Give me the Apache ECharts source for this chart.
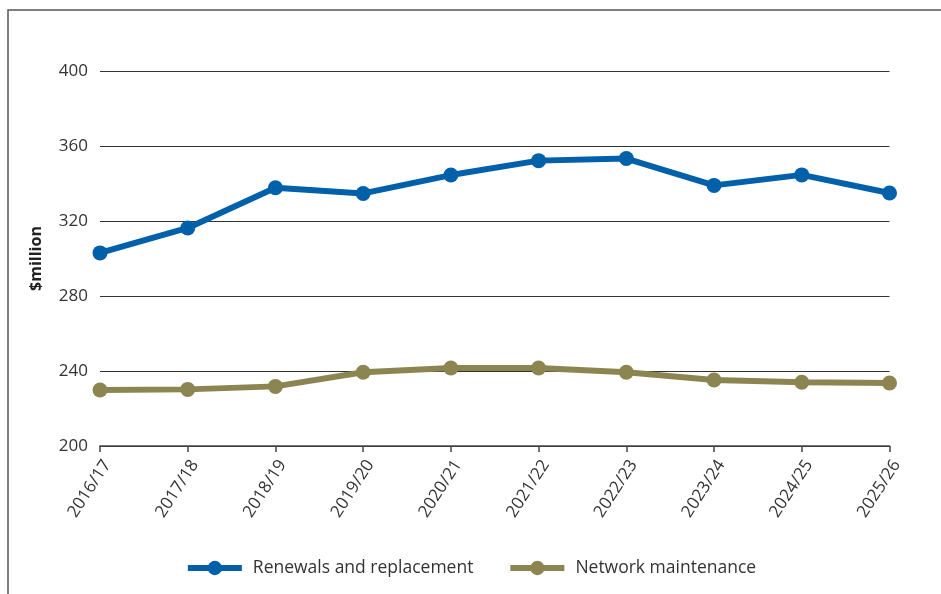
<!DOCTYPE html>
<html>
<head>
<meta charset="utf-8">
<script src="https://cdn.jsdelivr.net/npm/echarts@6/dist/echarts.min.js"></script>
<style>
html,body{margin:0;padding:0;background:#fff;}
#chart{width:941px;height:594px;}
</style>
</head>
<body>
<div id="chart"></div>
<script>
const categories = ['2016/17','2017/18','2018/19','2019/20','2020/21','2021/22','2022/23','2023/24','2024/25','2025/26'];
const renewals = [303, 316.3, 337.7, 334.7, 344.5, 352.2, 353.3, 339, 344.6, 334.9];
const maintenance = [229.9, 230.2, 231.8, 239.3, 241.6, 241.6, 239.3, 235.2, 234, 233.6];
const yTicks = [200, 240, 280, 320, 360, 400];

const FONT = '"Open Sans", "Noto Sans", sans-serif';
const chart = echarts.init(document.getElementById('chart'), null, {renderer: 'canvas'});
chart.setOption({
  animation: false,
  backgroundColor: '#fff',
  graphic: [{
    type: 'rect',
    shape: {x: 8, y: 10, width: 1200, height: 1200},
    style: {fill: 'none', stroke: '#555', lineWidth: 1.5},
    silent: true, z: -1
  }],
  grid: {left: 100, right: 51.5, top: 71, bottom: 148, containLabel: false},
  legend: {
    bottom: 12,
    left: 'center',
    itemWidth: 54,
    itemHeight: 18,
    itemGap: 34,
    lineStyle: {width: 6},
    textStyle: {fontFamily: FONT, fontSize: 17.5, color: '#333', padding: [0, 0, 0, 6]},
    data: ['Renewals and replacement', 'Network maintenance']
  },
  xAxis: {
    type: 'category',
    data: categories,
    boundaryGap: false,
    axisLine: {lineStyle: {color: '#444', width: 1.5}},
    axisTick: {show: true, length: 6, lineStyle: {color: '#444', width: 1.5}},
    axisLabel: {rotate: 57, fontFamily: FONT, fontSize: 17, color: '#333', margin: 11, interval: 0, verticalAlign: 'top'},
    splitLine: {show: false}
  },
  yAxis: {
    type: 'value',
    min: yTicks[0],
    max: yTicks[yTicks.length - 1],
    interval: 40,
    name: '$million',
    nameLocation: 'middle',
    nameGap: 56,
    nameRotate: 90,
    nameTextStyle: {fontFamily: FONT, fontSize: 16, fontWeight: 'bold', color: '#222'},
    axisLine: {show: false},
    axisTick: {show: false},
    axisLabel: {fontFamily: FONT, fontSize: 17, color: '#333', margin: 12},
    splitLine: {lineStyle: {color: '#333', width: 1.2}}
  },
  series: [
    {
      name: 'Renewals and replacement',
      type: 'line',
      data: renewals,
      symbol: 'circle',
      symbolSize: 15,
      itemStyle: {color: '#0060A9'},
      lineStyle: {color: '#0060A9', width: 6},
      z: 3
    },
    {
      name: 'Network maintenance',
      type: 'line',
      data: maintenance,
      symbol: 'circle',
      symbolSize: 15,
      itemStyle: {color: '#8C8551'},
      lineStyle: {color: '#8C8551', width: 6},
      z: 3
    }
  ]
});
</script>
</body>
</html>
